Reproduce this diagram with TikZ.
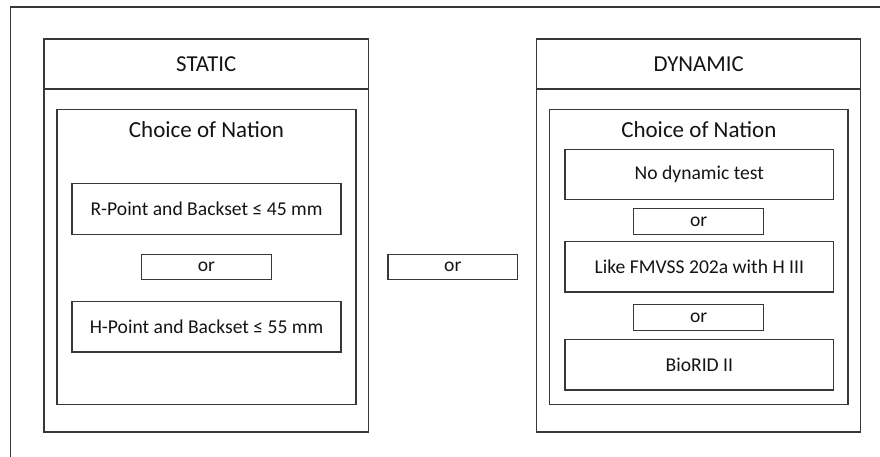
\documentclass[tikz,border=0pt]{standalone}
\usepackage{fontspec}
\setmainfont{Carlito}
\begin{document}
\begin{tikzpicture}[x=1pt,y=-1pt,
  frame/.style={draw=black!78,line width=1.1pt},
  panel/.style={frame,rectangle,inner sep=0pt,outer sep=0pt},
  title/.style={font=\fontsize{22.8}{26}\selectfont,text=black!92},
  heading/.style={font=\fontsize{23}{27}\selectfont,text=black!92},
  option/.style={panel,font=\fontsize{19.6}{23}\selectfont,text=black!92,minimum height=50.3pt},
  orbox/.style={panel,font=\fontsize{19.6}{23}\selectfont,text=black!92,minimum height=25.3pt,minimum width=129.5pt}]
\useasboundingbox (0,0) rectangle (880,457);
% outer page frame (top and left edges)
\coordinate (ftr) at (880,7);
\coordinate (ftl) at (10.5,7);
\coordinate (fbl) at (10.5,457);
\draw[frame] (ftr) -- (ftl) -- (fbl);

% STATIC panel
\node[panel,minimum width=324.5pt,minimum height=393pt] (stat) at (206.25,235.5) {};
\node[panel,minimum width=324.5pt,minimum height=50pt,title] (stathead) at (206.25,64) {STATIC};
\node[panel,minimum width=299pt,minimum height=295pt] (statin) at (206.5,257) {};
\node[heading] (statnation) at (206.5,129.5) {Choice of Nation};
\node[option,minimum width=269pt] (rpt) at (206.5,209) {R-Point and Backset ≤ 45 mm};
\node[orbox] (statort) at (206.5,266.75) {or};
\node[option,minimum width=269pt] (hpt) at (206.5,326.85) {H-Point and Backset ≤ 55 mm};

% alternative between the two panels
\node[orbox] (midor) at (452.75,266.75) {or};

% DYNAMIC panel
\node[panel,minimum width=324pt,minimum height=393pt] (dyn) at (698.7,235.5) {};
\node[panel,minimum width=324pt,minimum height=50pt,title] (dynhead) at (698.7,64) {DYNAMIC};
\node[panel,minimum width=298.3pt,minimum height=295pt] (dynin) at (698.85,257) {};
\node[heading] (dynnation) at (698.85,129.5) {Choice of Nation};
\node[option,minimum width=268.7pt] (nodyn) at (699.35,174.25) {No dynamic test};
\node[orbox,minimum width=130pt] (dynora) at (698.7,221.5) {or};
\node[option,minimum width=268.7pt] (fmvss) at (699.35,266.85) {Like FMVSS 202a with H III};
\node[orbox,minimum width=130pt] (dynorb) at (698.7,317.5) {or};
\node[option,minimum width=268.7pt] (biorid) at (699.35,364.85) {BioRID II};
\end{tikzpicture}
\end{document}
